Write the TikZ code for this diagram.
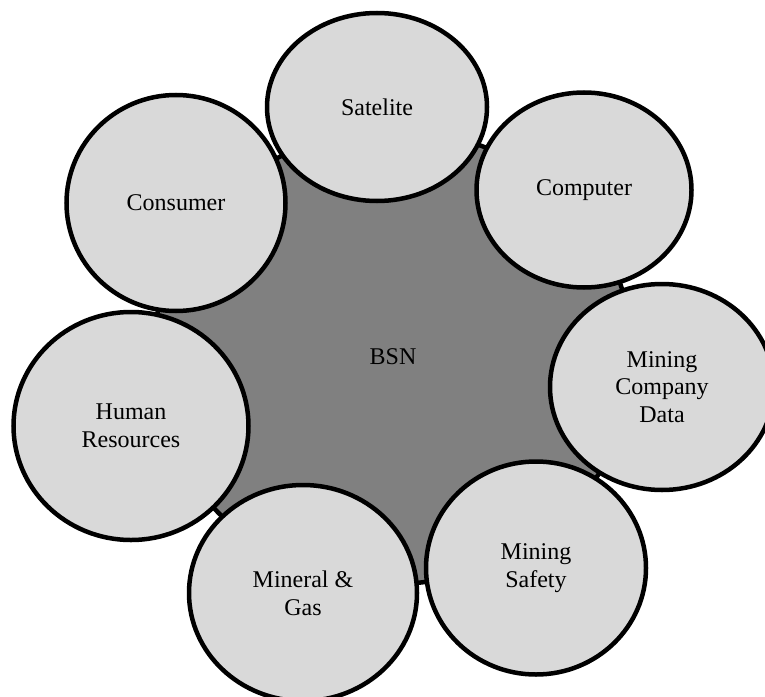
\documentclass[tikz,border=0pt]{standalone}
\usepackage{fontspec}
\setmainfont{Liberation Serif}
\usetikzlibrary{shapes.geometric}
\definecolor{hubgray}{HTML}{808080}
\definecolor{satgray}{HTML}{D9D9D9}
\begin{document}
\begin{tikzpicture}[x=1bp,y=-1bp,
  hub/.style={ellipse, draw=black, line width=4.5bp, fill=hubgray, inner sep=0pt,
    font=\fontsize{24bp}{27.6bp}\selectfont},
  satnode/.style={ellipse, draw=black, line width=4.5bp, fill=satgray, align=center,
    inner sep=0pt, font=\fontsize{24bp}{27.6bp}\selectfont},
]
\clip (0,0) rectangle (765,697);
\node[hub, minimum width=480bp, minimum height=454bp] (bsn) at (393,357) {BSN};
\node[satnode, minimum width=220bp, minimum height=188bp] (sat) at (377,107) {Satelite};
\node[satnode, minimum width=215bp, minimum height=195bp] (comp) at (584,190) {Computer};
\node[satnode, minimum width=224bp, minimum height=206bp] (mcd) at (662,387) {Mining\\Company\\Data};
\node[satnode, minimum width=220bp, minimum height=213bp] (safety) at (536,568) {Mining\\Safety};
\node[satnode, minimum width=228bp, minimum height=216bp] (mineral) at (303,593) {Mineral \&\\Gas};
\node[satnode, minimum width=235bp, minimum height=228bp] (hr) at (131,426) {Human\\Resources};
\node[satnode, minimum width=219bp, minimum height=216bp] (cons) at (176,203) {Consumer};
\end{tikzpicture}
\end{document}
